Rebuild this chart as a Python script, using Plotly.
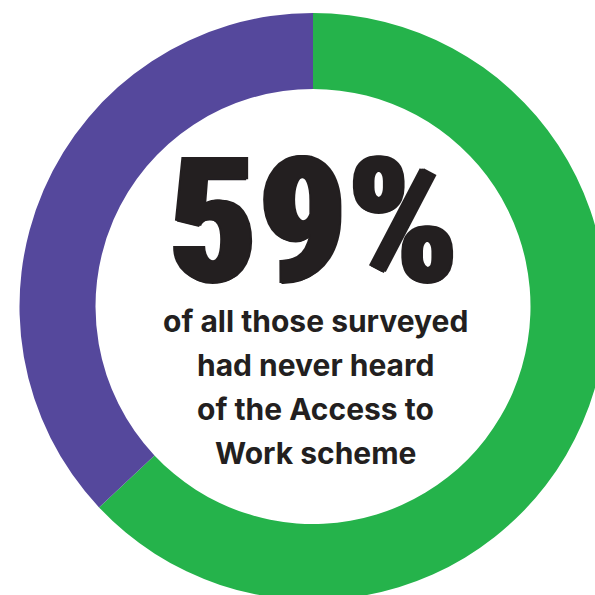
import plotly.graph_objects as go

# Data
labels = ["Had never heard of Access to Work", "Had heard of it"]
values = [63, 37]          # share of the ring as drawn
colors = ["#25b34b", "#55489c"]
headline = "59%"
caption_lines = ["of all those surveyed", "had never heard", "of the Access to", "Work scheme"]

W, H = 640, 640
cx, cy, R = 313, 306.5, 293.5
hole = 217.5 / 293.5

fig = go.Figure(go.Pie(
    labels=labels, values=values, sort=False, direction="clockwise", rotation=0,
    hole=hole, marker=dict(colors=colors, line=dict(width=0)),
    textinfo="none", hoverinfo="skip", showlegend=False,
    domain=dict(x=[(cx - R) / W, (cx + R) / W], y=[(H - cy - R) / H, (H - cy + R) / H]),
))

def py(y):
    return 1 - y / H

ink = "#231f20"
ann = [dict(text=headline, x=314 / W, y=py(221), xref="paper", yref="paper",
            xanchor="center", yanchor="middle", showarrow=False,
            font=dict(family="Roboto Condensed", size=174, color=ink, weight=900,
                      shadow="2px 0 0 #231f20, -2px 0 0 #231f20, 0 1px 0 #231f20"))]
for i, line in enumerate(caption_lines):
    ann.append(dict(text=line, x=315 / W, y=py(321 + 44 * i), xref="paper", yref="paper",
                    xanchor="center", yanchor="middle", showarrow=False,
                    font=dict(family="Inter", size=30, color=ink, weight="bold")))

fig.update_layout(width=W, height=H, margin=dict(l=0, r=0, t=0, b=0),
                  paper_bgcolor="white", plot_bgcolor="white", annotations=ann)
fig.write_html("out.html", config=dict(displayModeBar=False))
